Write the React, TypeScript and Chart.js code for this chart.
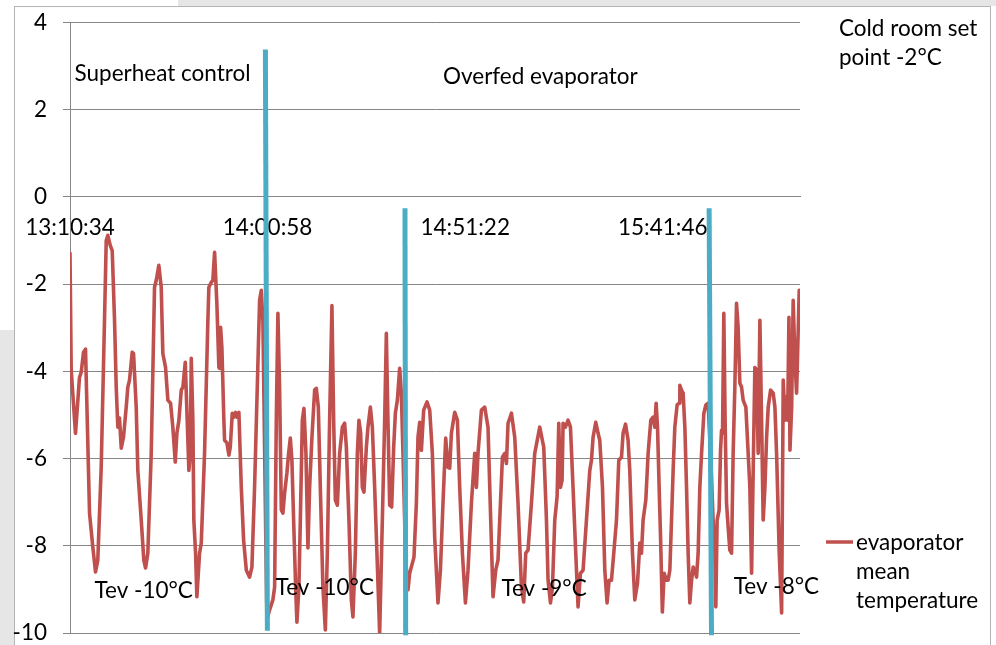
import React, { useEffect, useRef } from 'react';
import { Chart, registerables } from 'chart.js';

Chart.register(...registerables);

// ---- data ----
const tickLabels = ['13:10:34', '14:00:58', '14:51:22', '15:41:46'];
const tickMinutes = [0, 50.4, 100.8, 151.2];
const seriesName = 'evaporator mean temperature';

// elapsed minutes since 13:10:34
const elapsedMin = [
  0, 0.31, 1.40, 2.42, 2.86, 3.45, 3.96, 4.98, 5.82, 6.51,
  7.09, 7.96, 8.80, 9.24, 9.65, 10.26, 10.77, 11.36, 11.79, 12.20,
  12.63, 13.07, 13.65, 14.34, 14.75, 15.18, 15.87, 16.21, 16.89, 17.30,
  18.17, 18.83, 19.27, 19.85, 20.72, 21.56, 22.00, 22.66, 23.27, 23.68,
  24.37, 24.96, 25.65, 26.23, 26.85, 27.26, 27.77, 28.38, 28.79, 29.40,
  30.32, 30.68, 30.93, 31.34, 31.59, 32.03, 32.36, 33.05, 33.48, 34.32,
  35.17, 35.42, 36.03, 36.44, 36.88, 37.46, 37.97, 38.15, 38.41, 38.74,
  39.25, 39.43, 40.02, 40.53, 40.88, 41.39, 41.80, 42.24, 42.57, 43.08,
  43.69, 44.28, 44.97, 45.81, 46.40, 47.08, 47.77, 48.36, 48.79, 49.20,
  50.22, 50.91, 51.75, 52.19, 52.62, 53.03, 53.46, 53.90, 54.31, 54.74,
  55.33, 55.76, 56.20, 56.60, 57.04, 57.55, 57.88, 58.39, 58.75, 59.26,
  59.67, 60.18, 60.69, 61.12, 61.71, 62.40, 62.83, 63.34, 63.85, 64.51,
  65.13, 65.64, 66.22, 66.81, 67.25, 67.68, 68.19, 68.78, 69.47, 70.05,
  70.49, 71.15, 71.76, 72.17, 72.78, 73.29, 73.70, 74.14, 74.57, 74.98,
  75.59, 76.00, 76.61, 77.12, 77.71, 78.29, 78.98, 79.67, 80.26, 80.69,
  81.10, 81.54, 82.05, 82.56, 82.99, 83.50, 84.09, 84.52, 84.93, 85.62,
  86.21, 86.64, 87.74, 88.35, 88.76, 89.19, 89.63, 90.21, 91.06, 91.75,
  92.43, 93.02, 93.86, 94.48, 95.14, 95.83, 96.41, 96.85, 97.28, 98.13,
  98.81, 99.40, 100.09, 100.86, 101.52, 102.39, 103.23, 103.66, 104.07, 104.94,
  105.78, 106.62, 107.31, 107.90, 108.59, 109.17, 109.61, 110.30, 110.89, 111.32,
  111.73, 112.60, 113.44, 114.28, 115.15, 115.73, 116.24, 116.83, 117.70, 118.54,
  119.82, 120.84, 121.53, 121.94, 122.55, 123.06, 123.65, 124.24, 124.67, 125.10,
  125.51, 125.77, 126.37, 127.04, 127.65, 128.31, 129.00, 129.59, 130.20, 130.87,
  131.73, 132.58, 133.01, 133.42, 134.11, 134.70, 135.13, 135.82, 136.41, 136.99,
  137.50, 138.11, 138.70, 139.39, 139.98, 140.67, 141.07, 141.69, 142.35, 142.78,
  143.47, 144.06, 144.75, 145.34, 145.77, 146.18, 146.87, 147.46, 148.15, 148.74,
  149.17, 149.50, 149.86, 150.27, 150.63, 151.09, 151.55, 152.15, 152.56, 153.00,
  153.43, 153.84, 154.27, 154.86, 155.37, 155.55, 155.98, 156.39, 156.83, 157.26,
  157.67, 158.10, 158.54, 158.95, 159.37, 159.81, 160.22, 160.65, 161.09, 161.68,
  162.19, 162.77, 163.46, 164.04, 164.47, 164.73, 165.06, 165.57, 165.93, 166.19,
  166.44, 166.77, 167.10, 167.46, 167.87, 168.30, 168.74, 169.15, 169.58, 170.01,
  170.42, 170.86, 171.29, 171.70, 172.39, 172.98, 173.41, 173.85, 174.26, 174.69,
  175.13, 175.53, 175.97, 176.40, 176.81, 177.25, 177.68, 178.09, 178.70, 179.37,
  179.80, 180.23, 180.90, 181.51, 181.92, 182.36, 182.61, 183.04, 183.38, 183.64,
  184.07, 184.46, 184.91, 185.33, 185.59, 186.00,
];

const evapTemp = [
  -1.29, -3.97, -5.42, -4.14, -4.02, -3.56, -3.49, -7.25, -8.03, -8.60,
  -8.33, -6.20, -2.83, -1.00, -0.88, -1.11, -1.23, -2.83, -4.36, -5.28,
  -5.07, -5.76, -5.51, -4.82, -4.36, -4.20, -3.56, -3.59, -4.82, -6.27,
  -7.41, -8.33, -8.51, -8.17, -5.88, -2.07, -1.91, -1.57, -2.07, -3.59,
  -3.91, -4.66, -4.73, -5.28, -6.08, -5.42, -5.13, -4.43, -4.36, -3.79,
  -6.27, -5.88, -3.70, -5.12, -7.41, -8.17, -9.17, -8.17, -7.94, -5.88,
  -2.83, -2.07, -1.96, -1.91, -1.27, -2.44, -3.91, -3.93, -2.99, -3.45,
  -5.12, -5.58, -5.64, -5.92, -5.74, -4.96, -5.05, -4.94, -5.05, -4.94,
  -6.66, -7.87, -8.56, -8.72, -8.49, -6.66, -4.36, -2.37, -2.14, -2.83,
  -9.70, -9.47, -9.24, -8.95, -5.12, -2.67, -4.36, -7.18, -7.25, -6.79,
  -6.33, -5.88, -5.53, -6.04, -7.41, -8.95, -9.75, -8.95, -7.41, -5.12,
  -4.85, -5.88, -8.05, -6.66, -5.51, -4.43, -4.39, -4.82, -6.66, -8.95,
  -9.93, -8.17, -5.12, -2.49, -5.12, -6.95, -7.07, -5.88, -5.28, -5.19,
  -5.74, -7.41, -9.24, -9.63, -8.17, -5.88, -5.12, -5.42, -6.66, -6.77,
  -5.74, -5.28, -4.82, -5.28, -6.66, -8.17, -10.0, -7.41, -5.12, -3.13,
  -5.12, -7.07, -7.11, -5.74, -4.96, -4.66, -3.93, -4.50, -5.88, -8.33,
  -9.01, -8.63, -8.26, -7.02, -5.51, -5.17, -5.81, -4.89, -4.70, -4.89,
  -5.88, -7.80, -9.31, -8.56, -7.02, -5.53, -6.20, -6.22, -5.42, -4.94,
  -5.12, -6.66, -8.17, -9.31, -8.56, -7.02, -5.88, -6.66, -5.88, -4.89,
  -4.82, -5.28, -7.41, -9.17, -8.56, -8.33, -7.41, -5.97, -5.88, -6.11,
  -5.19, -4.96, -5.51, -7.02, -8.95, -9.29, -8.17, -8.10, -7.02, -5.88,
  -5.28, -5.74, -7.41, -8.79, -9.31, -8.95, -7.41, -6.88, -5.19, -6.66,
  -6.50, -5.19, -5.28, -5.12, -5.28, -6.66, -8.17, -9.40, -8.63, -8.56,
  -7.41, -6.27, -6.04, -5.51, -5.17, -5.42, -5.58, -6.66, -8.56, -9.31,
  -8.79, -8.79, -8.17, -7.41, -6.04, -5.97, -5.42, -5.21, -5.58, -6.27,
  -8.17, -9.24, -8.86, -7.94, -8.17, -7.41, -6.95, -5.88, -5.12, -5.05,
  -5.28, -4.73, -5.28, -6.66, -7.80, -9.52, -8.63, -8.79, -8.79, -8.56,
  -7.41, -6.27, -5.28, -4.77, -4.73, -4.32, -4.43, -4.50, -5.28, -6.66,
  -8.17, -9.31, -8.79, -8.49, -8.56, -8.72, -8.17, -6.66, -5.88, -4.96,
  -4.77, -4.73, -6.04, -7.41, -8.17, -9.40, -7.41, -7.18, -5.81, -5.35,
  -5.42, -2.67, -5.12, -7.02, -7.57, -8.10, -8.17, -5.88, -4.36, -2.44,
  -2.99, -4.27, -4.36, -4.66, -4.82, -5.88, -6.66, -8.63, -6.27, -3.91,
  -3.97, -5.88, -2.83, -5.12, -7.41, -6.66, -5.51, -4.82, -4.43, -4.50,
  -4.82, -5.88, -8.17, -9.54, -4.20, -5.12, -4.59, -5.12, -2.76, -5.81,
  -4.82, -2.37, -3.75, -4.50, -3.59, -2.14,
];

// annotations (data units: minutes, °C)
const legendLines = ['evaporator', 'mean', 'temperature'];
const noteLines = ['Cold room set', 'point -2°C'];
const phaseLabels = ['Superheat control', 'Overfed evaporator'];
const phaseLabelX = [1.15, 95.14];
const phaseLabelY = [2.65, 2.59];
const tevLabels = ['Tev -10°C', 'Tev -10°C', 'Tev -9°C', 'Tev -8°C'];
const tevLabelX = [6.25, 52.44, 110.04, 169.3];
const tevLabelY = [-9.2, -9.13, -9.15, -9.11];
const dividerTopX = [49.84, 85.44, 163.02];
const dividerTopY = [3.38, -0.26, -0.26];
const dividerBottomX = [50.35, 85.62, 163.63];
const dividerBottomY = [-9.95, -10.05, -10.05];

const RED = '#C0504D';
const BLUE = '#4BACC6';
const GRID = '#868686';
const FONT = 'Lato';
const FONT_SIZE = 22.5;
// the canvas is drawn 7px higher than the page so the plot area lines up
const SHIFT = 7;

const overlay = {
  id: 'overlay',
  beforeDraw(chart: any) {
    const { ctx, width, height } = chart;
    ctx.save();
    ctx.fillStyle = '#ffffff';
    ctx.fillRect(0, 0, width, height);
    ctx.fillStyle = '#e6e6e6';
    ctx.fillRect(0, 330 + SHIFT, 14, height);
    ctx.fillRect(178, 0, width - 178, 6 + SHIFT);
    ctx.strokeStyle = '#b4b4b4';
    ctx.lineWidth = 1;
    ctx.strokeRect(14.5, 6.5 + SHIFT, 976, height);
    ctx.restore();
  },
  afterDatasetsDraw(chart: any) {
    const { ctx } = chart;
    const xs = chart.scales.x;
    const ys = chart.scales.y;
    ctx.save();
    ctx.strokeStyle = BLUE;
    ctx.lineWidth = 5;
    ctx.lineCap = 'butt';
    for (let i = 0; i < dividerTopX.length; i++) {
      ctx.beginPath();
      ctx.moveTo(xs.getPixelForValue(dividerTopX[i]), ys.getPixelForValue(dividerTopY[i]));
      ctx.lineTo(xs.getPixelForValue(dividerBottomX[i]), ys.getPixelForValue(dividerBottomY[i]));
      ctx.stroke();
    }
    ctx.restore();
  },
  afterDraw(chart: any) {
    const { ctx, chartArea } = chart;
    const xs = chart.scales.x;
    const ys = chart.scales.y;
    ctx.save();
    ctx.fillStyle = '#000';
    ctx.font = `${FONT_SIZE}px ${FONT}`;
    ctx.textBaseline = 'alphabetic';
    ctx.textAlign = 'left';
    phaseLabels.forEach((t, i) => {
      ctx.fillText(t, xs.getPixelForValue(phaseLabelX[i]), ys.getPixelForValue(phaseLabelY[i]));
    });
    tevLabels.forEach((t, i) => {
      ctx.fillText(t, xs.getPixelForValue(tevLabelX[i]), ys.getPixelForValue(tevLabelY[i]));
    });
    noteLines.forEach((t, i) => {
      ctx.fillText(t, chartArea.right + 39, 36 + SHIFT + i * 29);
    });
    // legend
    const ly = 542 + SHIFT;
    ctx.strokeStyle = RED;
    ctx.lineWidth = 3.5;
    ctx.beginPath();
    ctx.moveTo(chartArea.right + 26, ly);
    ctx.lineTo(chartArea.right + 53, ly);
    ctx.stroke();
    legendLines.forEach((t, i) => {
      ctx.fillText(t, chartArea.right + 56, 550 + SHIFT + i * 29);
    });
    ctx.restore();
  },
};

export default function App() {
  const ref = useRef<HTMLCanvasElement | null>(null);
  useEffect(() => {
    if (!ref.current) return;
    const n = Math.min(elapsedMin.length, evapTemp.length);
    const points = [] as { x: number; y: number }[];
    for (let i = 0; i < n; i++) points.push({ x: elapsedMin[i], y: evapTemp[i] });
    const tickFont = { family: FONT, size: FONT_SIZE };
    const chart = new Chart(ref.current, {
      type: 'line',
      data: {
        datasets: [
          {
            label: seriesName,
            data: points,
            borderColor: RED,
            backgroundColor: RED,
            borderWidth: 3.6,
            pointRadius: 0,
            tension: 0,
            borderJoinStyle: 'round',
            borderCapStyle: 'round',
          },
        ],
      },
      options: {
        animation: false,
        responsive: false,
        devicePixelRatio: 1,
        layout: { padding: { left: 0, right: 196, top: 15, bottom: 48 } },
        plugins: { legend: { display: false }, tooltip: { enabled: false } },
        scales: {
          x: {
            type: 'linear',
            min: 0,
            max: 186.2,
            position: { y: 0 } as any,
            afterBuildTicks: (s: any) => {
              s.ticks = tickMinutes.map((v) => ({ value: v }));
            },
            ticks: {
              callback: (_v: any, i: number) => tickLabels[i],
              autoSkip: false,
              maxRotation: 0,
              font: tickFont,
              color: '#000',
            },
            grid: { display: true, color: 'rgba(0,0,0,0)', drawTicks: true, tickLength: 14 },
            border: { display: true, color: GRID, width: 1 },
          },
          y: {
            type: 'linear',
            min: -10,
            max: 4,
            afterFit: (s: any) => {
              s.width = 70;
            },
            ticks: { stepSize: 2, font: tickFont, color: '#000', padding: 16 },
            grid: { color: GRID, lineWidth: 1, drawTicks: true, tickLength: 7 },
            border: { display: true, color: GRID, width: 1 },
          },
        },
      } as any,
      plugins: [overlay],
    });
    return () => chart.destroy();
  }, []);
  return (
    <div style={{ position: 'fixed', left: 0, top: 0, width: 996, height: 645, overflow: 'hidden', background: '#fff' }}>
      <canvas ref={ref} width={996} height={688} style={{ display: 'block', marginTop: -SHIFT }} />
    </div>
  );
}
